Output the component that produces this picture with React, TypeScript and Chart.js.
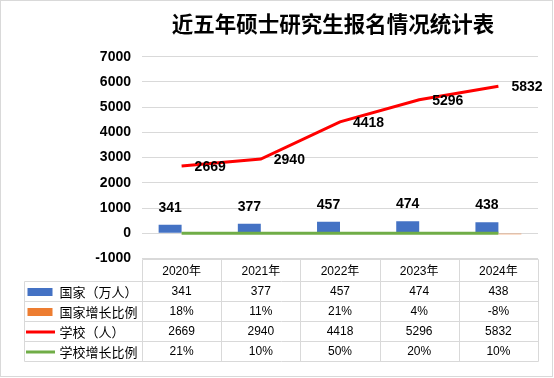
import React, { useEffect, useRef } from "react";
import { Chart, registerables } from "chart.js";

Chart.register(...registerables);

const titleText = "近五年硕士研究生报名情况统计表";
const years = ["2020年", "2021年", "2022年", "2023年", "2024年"];
const nationalApplicants = [341, 377, 457, 474, 438];
const nationalGrowth = [0.18, 0.11, 0.21, 0.04, -0.08];
const schoolApplicants = [2669, 2940, 4418, 5296, 5832];
const schoolGrowth = [0.21, 0.1, 0.5, 0.2, 0.1];
const seriesNames = ["国家（万人）", "国家增长比例", "学校（人）", "学校增长比例"];
const yMin = -1000;
const yMax = 7000;
const yStep = 1000;

const BLUE = "#4472C4";
const ORANGE = "#ED7D31";
const RED = "#FF0000";
const GREEN = "#70AD47";
const GRID = "#D9D9D9";

const pct = (v: number) => Math.round(v * 100) + "%";

const overlayPlugin = {
  id: "overlay",
  afterDraw(chart: any) {
    const ctx = chart.ctx as CanvasRenderingContext2D;
    const xs = chart.scales.x;
    const area = chart.chartArea;
    ctx.save();

    // outer border
    ctx.strokeStyle = GRID;
    ctx.lineWidth = 1;
    ctx.strokeRect(0.5, 0.5, chart.width - 2, chart.height - 2);

    // title
    ctx.fillStyle = "#000";
    ctx.font = "bold 21.5px 'Noto Sans CJK SC'";
    ctx.textAlign = "center";
    ctx.textBaseline = "middle";
    ctx.fillText(titleText, 333, 24);

    // bar data labels
    ctx.font = "bold 14px 'Liberation Sans'";
    const barMeta = chart.getDatasetMeta(0);
    barMeta.data.forEach((el: any, i: number) => {
      ctx.textAlign = "center";
      ctx.textBaseline = "middle";
      ctx.fillText(String(nationalApplicants[i]), el.x, el.y - 17);
    });
    // line data labels
    const lineMeta = chart.getDatasetMeta(2);
    lineMeta.data.forEach((el: any, i: number) => {
      ctx.textAlign = "left";
      ctx.textBaseline = "middle";
      ctx.fillText(String(schoolApplicants[i]), el.x + 13, el.y + 1);
    });

    // data table
    const top = Math.round(area.bottom) + 0.5;
    const rowH = 20;
    const headerBottom = 281.5;
    const tableLeft = 24.5;
    const left = Math.round(area.left) + 0.5;
    const right = Math.round(area.right) + 0.5;
    const n = years.length;
    const colW = (area.right - area.left) / n;
    const rows = 4;
    const bottom = headerBottom + rows * rowH;

    ctx.strokeStyle = GRID;
    ctx.lineWidth = 1;
    ctx.beginPath();
    ctx.moveTo(left, top);
    ctx.lineTo(right, top);
    for (let r = 0; r <= rows; r++) {
      const y = headerBottom + r * rowH;
      ctx.moveTo(tableLeft, y);
      ctx.lineTo(right, y);
    }
    ctx.moveTo(tableLeft, headerBottom);
    ctx.lineTo(tableLeft, bottom);
    for (let c = 0; c <= n; c++) {
      const x = Math.round(area.left + c * colW) + 0.5;
      ctx.moveTo(x, top);
      ctx.lineTo(x, bottom);
    }
    ctx.stroke();

    ctx.fillStyle = "#000";
    ctx.font = "12px 'Liberation Sans', 'Noto Sans CJK SC'";
    ctx.textAlign = "center";
    ctx.textBaseline = "middle";
    const headerY = (top + headerBottom) / 2 + 1;
    years.forEach((yr, i) => {
      ctx.fillText(yr, xs.getPixelForValue(i), headerY);
    });
    const rowVals = [
      nationalApplicants.map(String),
      nationalGrowth.map(pct),
      schoolApplicants.map(String),
      schoolGrowth.map(pct),
    ];
    rowVals.forEach((vals, r) => {
      const cy = headerBottom + r * rowH + rowH / 2 + 0.5;
      vals.forEach((v, i) => {
        ctx.fillText(v, xs.getPixelForValue(i), cy);
      });
    });

    // legend keys + names
    ctx.font = "13px 'Noto Sans CJK SC'";
    ctx.textAlign = "left";
    seriesNames.forEach((name, r) => {
      const cy = headerBottom + r * rowH + rowH / 2;
      if (r < 2) {
        ctx.fillStyle = r === 0 ? BLUE : ORANGE;
        ctx.fillRect(27.5, cy - 3.5, 25, 8);
      } else {
        ctx.strokeStyle = r === 2 ? RED : GREEN;
        ctx.lineWidth = 3;
        ctx.beginPath();
        ctx.moveTo(26, cy + 0.5);
        ctx.lineTo(55, cy + 0.5);
        ctx.stroke();
      }
      ctx.fillStyle = "#000";
      ctx.fillText(name, 59.5, cy + 1);
    });

    ctx.restore();
  },
};

export default function App() {
  const canvasRef = useRef<HTMLCanvasElement | null>(null);

  useEffect(() => {
    document.body.style.margin = "0";
    const canvas = canvasRef.current;
    if (!canvas) return;
    const chart = new Chart(canvas, {
      type: "bar",
      data: {
        labels: years,
        datasets: [
          {
            type: "bar",
            label: seriesNames[0],
            data: nationalApplicants,
            backgroundColor: BLUE,
            categoryPercentage: 0.58,
            barPercentage: 1,
            order: 2,
          },
          {
            type: "bar",
            label: seriesNames[1],
            data: nationalGrowth,
            backgroundColor: ORANGE,
            categoryPercentage: 0.58,
            barPercentage: 1,
            minBarLength: 1,
            order: 3,
          },
          {
            type: "line",
            label: seriesNames[2],
            data: schoolApplicants,
            borderColor: RED,
            backgroundColor: RED,
            borderWidth: 3,
            pointRadius: 0,
            tension: 0,
            order: 1,
          },
          {
            type: "line",
            label: seriesNames[3],
            data: schoolGrowth,
            borderColor: GREEN,
            backgroundColor: GREEN,
            borderWidth: 3,
            pointRadius: 0,
            tension: 0,
            order: 0,
          },
        ],
      } as any,
      options: {
        responsive: false,
        animation: false,
        events: [],
        layout: { padding: { left: 0, right: 16, top: 56.7, bottom: 119.5 } },
        plugins: {
          legend: { display: false },
          tooltip: { enabled: false },
          title: { display: false },
        },
        scales: {
          x: {
            display: false,
            offset: true,
          },
          y: {
            min: yMin,
            max: yMax,
            afterFit: (scale: any) => {
              scale.width = 142;
            },
            ticks: {
              stepSize: yStep,
              padding: 11,
              autoSkip: false,
              color: "#000",
              callback: (v: any) => String(v),
              font: { family: "'Liberation Sans'", size: 14, weight: "bold" },
            },
            grid: { color: GRID, lineWidth: 1, drawTicks: false },
            border: { display: false },
          },
        },
      } as any,
      plugins: [overlayPlugin],
    });
    return () => chart.destroy();
  }, []);

  return (
    <div style={{ width: 554, height: 378 }}>
      <canvas ref={canvasRef} width={554} height={378} style={{ display: "block" }} />
    </div>
  );
}
